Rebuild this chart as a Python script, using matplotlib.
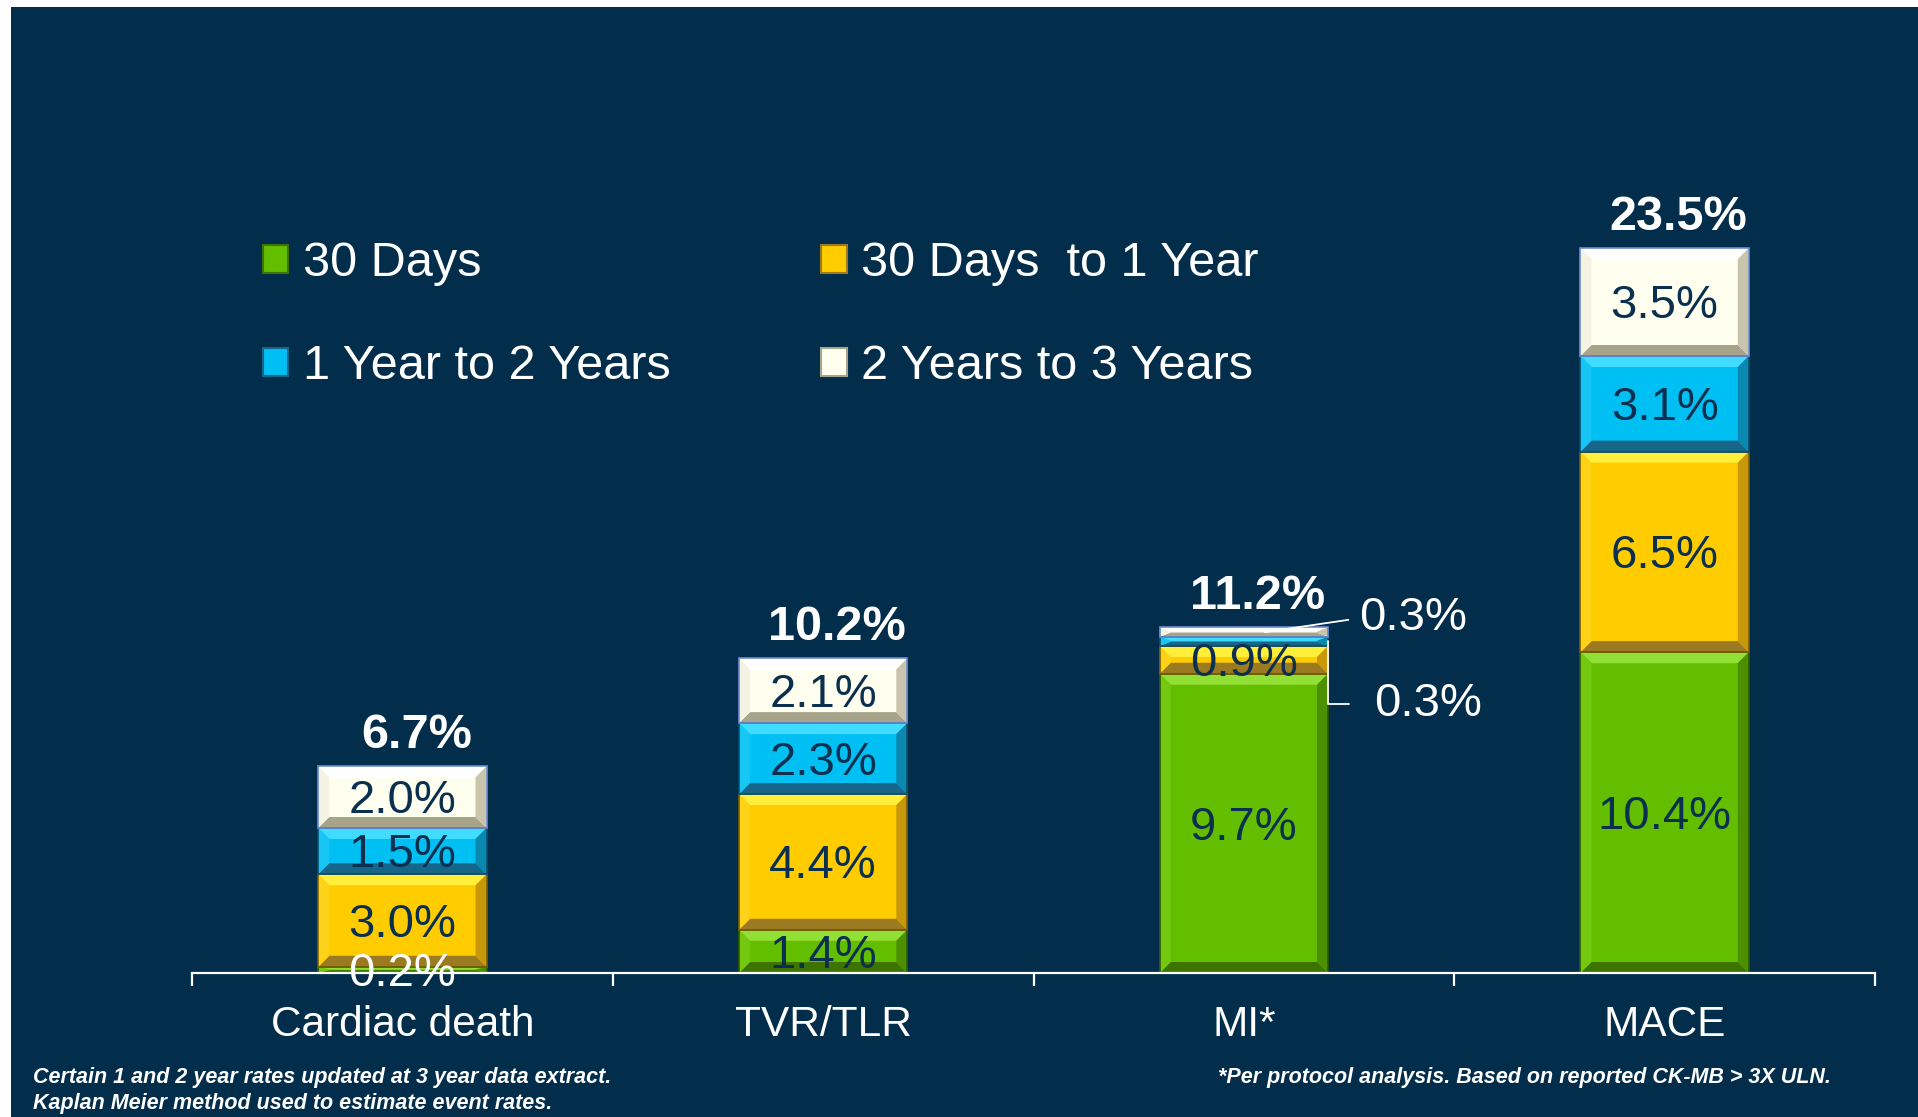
import matplotlib.pyplot as plt
from matplotlib.patches import Patch, Polygon, Rectangle

# Cumulative event rates (%) by period
categories = ["Cardiac death", "TVR/TLR", "MI*", "MACE"]
series_names = ["30 Days", "30 Days  to 1 Year", "1 Year to 2 Years", "2 Years to 3 Years"]
days_30 = [0.2, 1.4, 9.7, 10.4]
days_30_to_1y = [3.0, 4.4, 0.9, 6.5]
year_1_to_2 = [1.5, 2.3, 0.3, 3.1]
year_2_to_3 = [2.0, 2.1, 0.3, 3.5]
totals = [6.7, 10.2, 11.2, 23.5]

BG = "#022D4B"
LABEL_DARK = "#0B2F4F"
FONT = ["Liberation Sans", "DejaVu Sans"]
NARROW = ["Liberation Sans Narrow", "Liberation Sans", "DejaVu Sans"]

# face, top, bottom, left, right, edge
STYLES = [
    ("#63BE00", "#92E036", "#3D7400", "#74C80F", "#4C9000", "#2F5A00"),
    ("#FFCC00", "#FFEF3A", "#9C7A22", "#FFD21A", "#C8980A", "#7A5E00"),
    ("#00BFF3", "#40DCFF", "#16668A", "#18C6F5", "#0A88B0", "#0B4D6B"),
    ("#FFFFF0", "#FFFFFF", "#A8A48C", "#F4F2E2", "#C9C5AC", "#6D8CD0"),
]

W, H = 1918, 1117
AX_L, AX_R, AX_B, AX_T = 192, 1875, 973, 186
PX_PER_PCT = 30.85
BAR_W = 0.4

plt.rcParams["font.family"] = FONT

fig = plt.figure(figsize=(W / 100, H / 100), dpi=100, facecolor="white")
# dark slide background, thin white margin on the left and top
fig.patches.append(Rectangle((11 / W, 0), 1, 1 - 7 / H, transform=fig.transFigure,
                             facecolor=BG, edgecolor="none", zorder=-10))

ax = fig.add_axes([AX_L / W, 1 - AX_B / H, (AX_R - AX_L) / W, (AX_B - AX_T) / H])
ax.set_facecolor("none")
ax.set_xlim(-0.5, len(categories) - 0.5)
ax.set_ylim(0, (AX_B - AX_T) / PX_PER_PCT)

dx_px = len(categories) / (AX_R - AX_L)
dy_px = 1 / PX_PER_PCT


def bevel_segment(x, bottom, height, style, bev=11):
    face, top, low, left, right, edge = style
    bx = bev * dx_px
    by = min(bev * dy_px, height / 2.2)
    x0, x1 = x - BAR_W / 2, x + BAR_W / 2
    y0, y1 = bottom, bottom + height
    faces = [
        ([(x0, y1), (x1, y1), (x1 - bx, y1 - by), (x0 + bx, y1 - by)], top),
        ([(x0, y0), (x1, y0), (x1 - bx, y0 + by), (x0 + bx, y0 + by)], low),
        ([(x0, y0), (x0, y1), (x0 + bx, y1 - by), (x0 + bx, y0 + by)], left),
        ([(x1, y0), (x1, y1), (x1 - bx, y1 - by), (x1 - bx, y0 + by)], right),
    ]
    for pts, col in faces:
        ax.add_patch(Polygon(pts, closed=True, facecolor=col, edgecolor="none", zorder=3))
    ax.add_patch(Rectangle((x0, y0), BAR_W, height, facecolor="none",
                           edgecolor=edge, linewidth=1.2, zorder=4))


stack = [days_30, days_30_to_1y, year_1_to_2, year_2_to_3]
xs = list(range(len(categories)))
bottoms = [0.0] * len(categories)
for s, values in enumerate(stack):
    ax.bar(xs, values, width=BAR_W, bottom=bottoms, color=STYLES[s][0],
           edgecolor="none", zorder=2)
    for i, v in enumerate(values):
        bevel_segment(xs[i], bottoms[i], v, STYLES[s])
        mid = bottoms[i] + v / 2
        if categories[i] == "MI*" and s >= 2:
            continue
        color = "white" if (s == 0 and v < 1) else LABEL_DARK
        ax.annotate(f"{v:.1f}%", xy=(xs[i], mid), xytext=(0, -3), textcoords="offset points",
                    ha="center", va="center", fontsize=34, color=color, zorder=6)
    bottoms = [b + v for b, v in zip(bottoms, values)]

# small MI segments labelled outside the bar with leader lines
mi = categories.index("MI*")
mi_base = days_30[mi] + days_30_to_1y[mi]
ax.annotate(f"{year_2_to_3[mi]:.1f}%",
            xy=(mi + 0.05, mi_base + year_1_to_2[mi] + year_2_to_3[mi] / 2),
            xytext=(68, 10), textcoords="offset points",
            ha="left", va="center", fontsize=34, color="white", zorder=7,
            arrowprops=dict(arrowstyle="-", color="white", linewidth=1.3,
                            relpos=(0, 0.5), shrinkA=6, shrinkB=0))
ax.annotate(f"{year_1_to_2[mi]:.1f}%",
            xy=(mi + BAR_W / 2, mi_base + year_1_to_2[mi] / 2),
            xytext=(33, -45), textcoords="offset points",
            ha="left", va="center", fontsize=34, color="white", zorder=7,
            arrowprops=dict(arrowstyle="-", color="white", linewidth=1.3,
                            relpos=(0, 0.5), shrinkA=16, shrinkB=0,
                            connectionstyle="angle,angleA=0,angleB=90,rad=0"))

# totals above each stack
for i, t in enumerate(totals):
    ax.annotate(f"{t:.1f}%", xy=(xs[i], t), xytext=(10, 22), textcoords="offset points",
                ha="center", va="center", fontsize=35, fontweight="bold",
                color="white", zorder=7)

# axis styling
for side in ("left", "right", "top"):
    ax.spines[side].set_visible(False)
ax.spines["bottom"].set_color("white")
ax.spines["bottom"].set_linewidth(1.6)
ax.spines["bottom"].set_zorder(5)
ax.set_yticks([])
ax.set_xticks(xs)
ax.set_xticklabels(categories, fontsize=30.5, color="white")
ax.tick_params(axis="x", which="major", length=0, pad=23)
ax.set_xticks([x - 0.5 for x in xs] + [xs[-1] + 0.5], minor=True)
ax.tick_params(axis="x", which="minor", length=9, width=1.6, color="white", direction="out")

# legend: column-wise order gives two rows of two
order = [0, 2, 1, 3]
handles = [Patch(facecolor=STYLES[k][0], edgecolor=STYLES[k][2], linewidth=1.5,
                 label=series_names[k]) for k in order]
fig.legend(handles=handles, loc="upper left", bbox_to_anchor=(263 / W, 1 - 241 / H),
           ncol=2, frameon=False, fontsize=35, labelcolor="white",
           handlelength=0.52, handleheight=0.52, handletextpad=0.3,
           columnspacing=3.1, labelspacing=1.2, borderpad=0, borderaxespad=0)

# footnotes
note_kw = dict(fontsize=15.5, fontstyle="italic", fontweight="bold", color="white",
               family=NARROW, va="center", ha="left")
fig.text(33 / W, 1 - 1078 / H, "Certain 1 and 2 year rates updated at 3 year data extract.", **note_kw)
fig.text(33 / W, 1 - 1103 / H, "Kaplan Meier method used to estimate event rates.", **note_kw)
fig.text(1218 / W, 1 - 1078 / H, "*Per protocol analysis. Based on reported CK-MB > 3X ULN.", **note_kw)

fig.savefig("out.png", dpi=100, facecolor=fig.get_facecolor())
